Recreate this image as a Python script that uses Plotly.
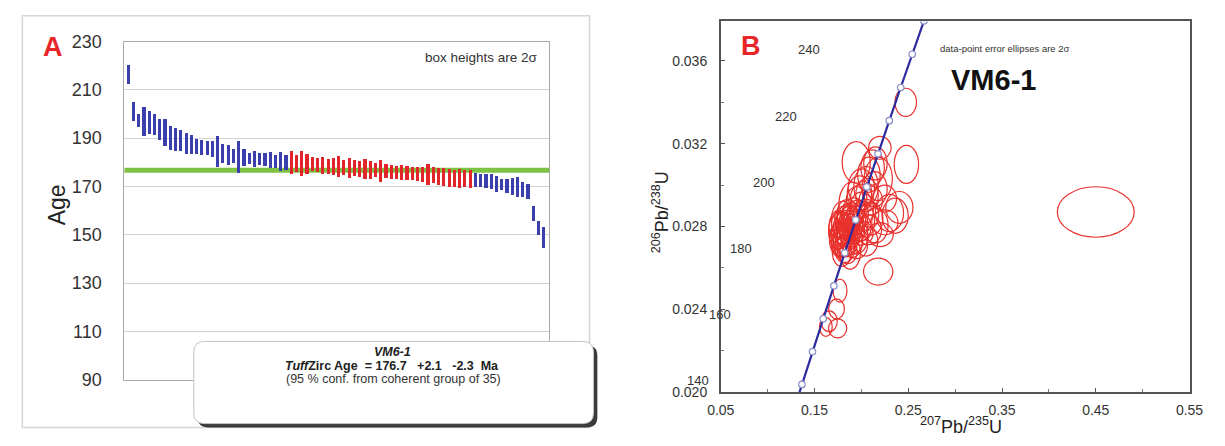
import plotly.graph_objects as go

W, H = 1225, 446
FONT = "Liberation Sans, Arial, sans-serif"
BLUE = "#3b3fae"
RED_BAR = "#e0262b"
GREEN = "#7dc242"
RED_ELL = "#e8302c"
CONC_BLUE = "#2b2a9e"
TXT = "#333333"

# ---------------- Panel A data (TuffZirc ranked ages, Ma) ----------------
ages = [216.5, 201.2, 197.6, 197.2, 196.8, 195.8, 193.8, 192.5, 190.3, 189.8,
        189.3, 188.0, 187.6, 186.8, 186.5, 186.1, 185.8, 184.6, 183.7, 183.3,
        182.8, 182.4, 182.1, 181.9, 181.7, 181.5, 181.3, 181.0, 180.6, 180.4,
        180.1, 180.0, 179.8, 179.7, 179.5, 179.3, 179.0, 178.8, 178.6, 178.4,
        178.3, 178.1, 177.9, 177.8, 177.6, 177.4, 177.0, 176.8, 176.6, 176.5,
        176.2, 176.0, 175.9, 175.7, 175.6, 175.4, 175.2, 175.1, 174.9, 174.3,
        174.1, 173.8, 173.6, 173.5, 173.4, 173.3, 172.8, 172.7, 172.5, 172.2,
        171.3, 170.9, 170.4, 170.2, 170.0, 169.0, 168.1, 159.0, 153.0, 149.1]
err2s = [4.0, 4.0, 2.6, 6.0, 4.7, 4.4, 4.2, 5.5, 5.0, 4.8,
         4.3, 4.3, 4.0, 3.1, 3.1, 3.0, 3.4, 6.4, 4.0, 4.2,
         3.0, 6.6, 3.6, 2.3, 3.3, 2.6, 2.8, 3.3, 2.6, 4.0,
         3.1, 4.8, 3.6, 5.1, 4.3, 2.9, 3.0, 3.5, 3.1, 3.6,
         4.3, 3.0, 4.1, 3.3, 3.3, 4.0, 3.6, 2.9, 4.6, 2.9,
         3.0, 2.8, 3.1, 3.0, 2.8, 2.8, 3.0, 4.3, 3.2, 3.6,
         3.6, 3.8, 3.6, 3.8, 3.6, 3.8, 3.0, 2.8, 3.0, 3.0,
         3.3, 2.3, 2.8, 3.4, 4.0, 3.1, 3.1, 3.0, 3.0, 4.3]
# coherent group (red) = ranks 32..66
coherent = ([False] * 31) + ([True] * 35) + ([False] * 14)
tuffzirc_age = 176.7
age_ticks = [90, 110, 130, 150, 170, 190, 210, 230]

# ---------------- Panel B data (concordia) ----------------
conc_age = [120, 130, 140, 150, 160, 170, 180, 190, 200, 210, 220, 230, 240, 250]
conc_r75 = [0.12545, 0.136588, 0.147836, 0.159197, 0.17067, 0.182256, 0.193957,
            0.205774, 0.217707, 0.229759, 0.24193, 0.254222, 0.266635, 0.279171]
conc_r68 = [0.018789, 0.020371, 0.021955, 0.023542, 0.025131, 0.026722, 0.028316,
            0.029912, 0.031511, 0.033113, 0.034716, 0.036323, 0.037932, 0.039543]
conc_marker_ages = [130, 140, 150, 160, 170, 180, 190, 200, 210, 220, 230, 240]
conc_label_ages = [140, 160, 180, 200, 220, 240]

# error ellipses: centre (207Pb/235U, 206Pb/238U) and 2-sigma semi-axes
ell_r75 = [0.2473, 0.2197, 0.2480, 0.1945, 0.2150, 0.2120, 0.2080, 0.2180, 0.2050, 0.2000,
           0.2140, 0.1980, 0.2060, 0.2000, 0.2250, 0.1950, 0.2100, 0.1900, 0.2405, 0.2000,
           0.1920, 0.4500, 0.2300, 0.1850, 0.1960, 0.2050, 0.2360, 0.1900, 0.1820, 0.2100,
           0.1880, 0.1800, 0.1930, 0.2000, 0.1860, 0.2250, 0.1830, 0.1950, 0.1780, 0.1900,
           0.2150, 0.1850, 0.1760, 0.1980, 0.1870, 0.1800, 0.2080, 0.1840, 0.1750, 0.1920,
           0.1820, 0.2000, 0.1780, 0.1880, 0.2200, 0.1830, 0.1760, 0.1950, 0.1850, 0.1800,
           0.1900, 0.1760, 0.2050, 0.1830, 0.1780, 0.1900, 0.1800, 0.1850, 0.1780, 0.1950,
           0.1820, 0.1850, 0.1790, 0.1880, 0.2179, 0.1772, 0.1735, 0.1656, 0.1747, 0.1621]
ell_r68 = [0.03400, 0.03180, 0.03100, 0.03110, 0.03105, 0.03085, 0.03050, 0.03030, 0.02995, 0.02988,
           0.02980, 0.02960, 0.02953, 0.02940, 0.02935, 0.02930, 0.02925, 0.02905, 0.02892, 0.02884,
           0.02876, 0.02870, 0.02865, 0.02862, 0.02859, 0.02856, 0.02852, 0.02848, 0.02841, 0.02838,
           0.02833, 0.02832, 0.02828, 0.02827, 0.02824, 0.02820, 0.02816, 0.02812, 0.02809, 0.02806,
           0.02805, 0.02801, 0.02798, 0.02797, 0.02793, 0.02790, 0.02784, 0.02781, 0.02777, 0.02776,
           0.02771, 0.02768, 0.02766, 0.02763, 0.02761, 0.02758, 0.02755, 0.02753, 0.02750, 0.02741,
           0.02737, 0.02733, 0.02729, 0.02728, 0.02726, 0.02725, 0.02717, 0.02715, 0.02712, 0.02707,
           0.02693, 0.02678, 0.02675, 0.02672, 0.02582, 0.02490, 0.02402, 0.02342, 0.02308, 0.02315]
ell_s75 = [0.0115, 0.0120, 0.0130, 0.0150, 0.0125, 0.0125, 0.0120, 0.0150, 0.0130, 0.0140,
           0.0135, 0.0130, 0.0120, 0.0115, 0.0125, 0.0110, 0.0125, 0.0140, 0.0145, 0.0130,
           0.0120, 0.0410, 0.0150, 0.0110, 0.0115, 0.0135, 0.0140, 0.0110, 0.0105, 0.0130,
           0.0110, 0.0120, 0.0115, 0.0140, 0.0120, 0.0140, 0.0105, 0.0120, 0.0100, 0.0115,
           0.0135, 0.0110, 0.0105, 0.0125, 0.0110, 0.0100, 0.0135, 0.0105, 0.0100, 0.0115,
           0.0105, 0.0125, 0.0100, 0.0110, 0.0140, 0.0105, 0.0100, 0.0120, 0.0110, 0.0105,
           0.0115, 0.0100, 0.0125, 0.0105, 0.0100, 0.0110, 0.0100, 0.0105, 0.0100, 0.0115,
           0.0105, 0.0105, 0.0100, 0.0110, 0.0156, 0.0074, 0.0084, 0.0087, 0.0097, 0.0068]
ell_s68 = [0.00068, 0.00055, 0.00092, 0.00100, 0.00080, 0.00085, 0.00085, 0.00105, 0.00095, 0.00090,
           0.00085, 0.00085, 0.00080, 0.00065, 0.00065, 0.00062, 0.00070, 0.00110, 0.00077, 0.00082,
           0.00062, 0.00122, 0.00090, 0.00068, 0.00068, 0.00075, 0.00085, 0.00068, 0.00058, 0.00080,
           0.00065, 0.00090, 0.00072, 0.00095, 0.00085, 0.00060, 0.00062, 0.00070, 0.00065, 0.00072,
           0.00085, 0.00062, 0.00080, 0.00068, 0.00068, 0.00078, 0.00072, 0.00060, 0.00088, 0.00060,
           0.00062, 0.00058, 0.00065, 0.00062, 0.00058, 0.00058, 0.00062, 0.00085, 0.00065, 0.00072,
           0.00072, 0.00075, 0.00072, 0.00075, 0.00072, 0.00075, 0.00062, 0.00058, 0.00062, 0.00062,
           0.00068, 0.00058, 0.00068, 0.00078, 0.00065, 0.00055, 0.00048, 0.00050, 0.00046, 0.00046]

# label offset used by the concordia age labels (data units)
LBL_DX, LBL_DY = -0.122, -0.0014


def px(x):
    return x / W


def py(y):
    return 1 - y / H


# panel B axis geometry
X2_DOM = [px(723.3), px(1203)]
Y2_DOM = [py(400), py(11.7)]
X2_RANGE = [0.05, 0.55]
Y2_RANGE = [0.020, 0.03792]


def b_to_paper(xv, yv):
    fx = (xv - X2_RANGE[0]) / (X2_RANGE[1] - X2_RANGE[0])
    fy = (yv - Y2_RANGE[0]) / (Y2_RANGE[1] - Y2_RANGE[0])
    return (X2_DOM[0] + fx * (X2_DOM[1] - X2_DOM[0]),
            Y2_DOM[0] + fy * (Y2_DOM[1] - Y2_DOM[0]))


def rr_path(x0, y0, x1, y1, r):
    def P(x, y):
        return f"{px(x):.5f},{py(y):.5f}"
    return (f"M {P(x0 + r, y0)} L {P(x1 - r, y0)} Q {P(x1, y0)} {P(x1, y0 + r)} "
            f"L {P(x1, y1 - r)} Q {P(x1, y1)} {P(x1 - r, y1)} L {P(x0 + r, y1)} "
            f"Q {P(x0, y1)} {P(x0, y1 - r)} L {P(x0, y0 + r)} Q {P(x0, y0)} {P(x0 + r, y0)} Z")


fig = go.Figure()

# ---- Panel A bars ----
ranks = list(range(1, len(ages) + 1))
fig.add_trace(go.Bar(
    x=ranks,
    y=[2 * e for e in err2s],
    base=[a - e for a, e in zip(ages, err2s)],
    width=0.6,
    marker=dict(color=[RED_BAR if c else BLUE for c in coherent], line=dict(width=0)),
    xaxis="x", yaxis="y", showlegend=False, hoverinfo="skip",
))

# ---- Panel B concordia ----
fig.add_trace(go.Scatter(
    x=conc_r75, y=conc_r68, mode="lines",
    line=dict(color=CONC_BLUE, width=2.2),
    xaxis="x2", yaxis="y2", showlegend=False, hoverinfo="skip",
))
mk_idx = [conc_age.index(a) for a in conc_marker_ages]
fig.add_trace(go.Scatter(
    x=[conc_r75[i] for i in mk_idx], y=[conc_r68[i] for i in mk_idx], mode="markers",
    marker=dict(color="white", size=6.5, line=dict(color="#8a8fc8", width=1.2)),
    xaxis="x2", yaxis="y2", showlegend=False, hoverinfo="skip",
))

shapes = []
# panel A outer frame
shapes.append(dict(type="rect", xref="paper", yref="paper",
                   x0=px(8.5), x1=px(589), y0=py(437), y1=py(6),
                   line=dict(color="#d6d6d6", width=1.5), layer="below"))
# TuffZirc age line
shapes.append(dict(type="line", xref="paper", yref="y",
                   x0=px(113), x1=px(548),
                   y0=tuffzirc_age, y1=tuffzirc_age,
                   line=dict(color=GREEN, width=5), layer="below"))
# error ellipses
for cx, cy, sx, sy in zip(ell_r75, ell_r68, ell_s75, ell_s68):
    shapes.append(dict(type="circle", xref="x2", yref="y2",
                       x0=cx - sx, x1=cx + sx, y0=cy - sy, y1=cy + sy,
                       line=dict(color=RED_ELL, width=1.2), layer="below"))
# result box (shadow + box)
shapes.append(dict(type="path", xref="paper", yref="paper",
                   path=rr_path(188, 351, 597, 437, 11),
                   fillcolor="#3a3a3a", line=dict(width=0), layer="above"))
shapes.append(dict(type="path", xref="paper", yref="paper",
                   path=rr_path(184, 347, 593, 433, 11),
                   fillcolor="white", line=dict(color="#c4c4c4", width=1), layer="above"))

annotations = []


def ann(text, x, y, size, color=TXT, xanchor="center", angle=0, family=FONT):
    annotations.append(dict(text=text, x=px(x), y=py(y), xref="paper", yref="paper",
                            xanchor=xanchor, yanchor="middle", showarrow=False,
                            textangle=angle, font=dict(family=family, size=size, color=color)))


ann("<b>A</b>", 40, 39, 27, color="#e8262a")
ann("Age", 43.5, 204, 23, color="#222222", angle=-90)
ann("box heights are 2σ", 538, 50, 13.5, xanchor="right")
NB = "\u00a0"
ann("<b><i>VM6-1</i></b>", 387, 358, 12.5, color="#222222")
ann(f"<b><i>Tuff</i>Zirc Age {NB}= 176.7 {NB}{NB}+2.1 {NB}{NB}-2.3 {NB}Ma</b>", 387, 372.5, 12.5, color="#222222")
ann("(95 % conf. from coherent group of 35)", 388, 386, 12.5, color="#333333")

ann("<b>B</b>", 754, 37.5, 27, color="#e8262a")
ann("data-point error ellipses are 2σ", 946, 40, 9.5, xanchor="left")
ann("<b>VM6-1</b>", 957, 73, 29, color="#111111", xanchor="left")
ann("<sup>207</sup>Pb/<sup>235</sup>U", 969, 435, 18, color="#222222")
ann("<sup>206</sup>Pb/<sup>238</sup>U", 662, 212, 18, color="#222222", angle=-90)

# concordia age labels (paper coordinates so labels left of the axis still show)
for a in conc_label_ages:
    i = conc_age.index(a)
    lx, ly = b_to_paper(conc_r75[i] + LBL_DX, conc_r68[i] + LBL_DY)
    annotations.append(dict(text=str(a), x=lx, y=ly, xref="paper", yref="paper",
                            showarrow=False, xanchor="center", yanchor="middle",
                            font=dict(family=FONT, size=13, color=TXT)))

fig.update_layout(
    width=W, height=H, autosize=False,
    margin=dict(l=0, r=0, t=0, b=0),
    paper_bgcolor="white", plot_bgcolor="white",
    font=dict(family=FONT, color=TXT),
    bargap=0,
    shapes=shapes,
    annotations=annotations,
    xaxis=dict(domain=[px(113), px(548)], range=[0.2, 81.0], showticklabels=False,
               showgrid=False, zeroline=False, ticks="", showline=True, mirror=True,
               linecolor="#a8a8a8", linewidth=1, fixedrange=True),
    yaxis=dict(domain=[py(387), py(33)], range=[90, 230], tickvals=age_ticks,
               showgrid=True, gridcolor="#d2d2d2", gridwidth=1, zeroline=False,
               showline=True, mirror=True, linecolor="#a8a8a8", linewidth=1,
               ticks="", ticklabelstandoff=18,
               tickfont=dict(family=FONT, size=18, color=TXT)),
    xaxis2=dict(domain=X2_DOM, range=X2_RANGE,
                tickvals=[0.05, 0.15, 0.25, 0.35, 0.45, 0.55], tickformat=".2f",
                showgrid=False, zeroline=False, showline=True, mirror=True,
                linecolor="#555555", linewidth=1.5, ticks="inside", ticklen=4,
                tickcolor="#555555", ticklabelstandoff=4,
                minor=dict(tickvals=[0.10, 0.20, 0.30, 0.40, 0.50], ticks="inside",
                           ticklen=3, tickcolor="#777777"),
                tickfont=dict(family=FONT, size=14, color=TXT), anchor="y2"),
    yaxis2=dict(domain=Y2_DOM, range=Y2_RANGE,
                tickvals=[0.020, 0.024, 0.028, 0.032, 0.036], tickformat=".3f",
                showgrid=False, zeroline=False, showline=True, mirror=True,
                linecolor="#555555", linewidth=1.5, ticks="inside", ticklen=4,
                tickcolor="#555555", ticklabelstandoff=9,
                minor=dict(tickvals=[0.022, 0.026, 0.030, 0.034], ticks="inside",
                           ticklen=3, tickcolor="#777777"),
                tickfont=dict(family=FONT, size=14, color=TXT), anchor="x2"),
)

fig.write_html("out.html", config={"displayModeBar": False},
               post_script="document.body.style.margin='0';"
                           "document.documentElement.style.overflow='hidden';")
